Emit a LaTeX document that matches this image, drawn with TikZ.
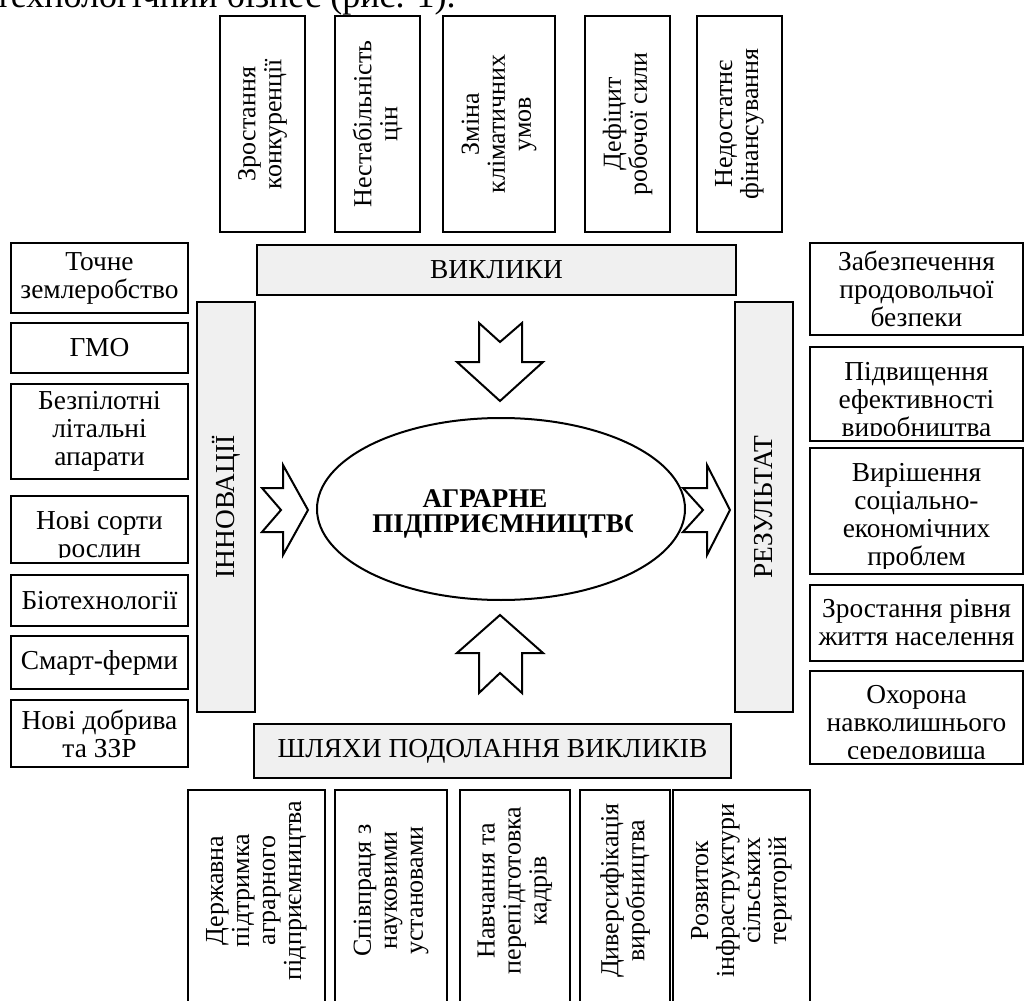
\documentclass[tikz,border=0pt]{standalone}
\usepackage{fontspec}
\setmainfont{Liberation Serif}
\usetikzlibrary{shapes.geometric}
\definecolor{boxgrey}{HTML}{F0F0F0}
\tikzset{
  box/.style={draw=black, line width=1.35pt, fill=white, rectangle, inner sep=0pt, outer sep=0pt},
  gbox/.style={box, fill=boxgrey},
  txt/.style={font=\fontsize{13.7}{14}\selectfont, align=center, inner sep=0pt, text=black},
  rtxt/.style={font=\fontsize{13}{13}\selectfont, align=center, inner sep=0pt, text=black, rotate=90},
  blockarrow/.style={draw=black, line width=1pt, fill=white, line join=miter},
}
% #1 name, #2 box style, #3 x1, #4 y1, #5 x2, #6 y2, #7 text options, #8 text
\newcommand\bx[8]{%
  \node[#2, minimum width={(#5-#3)*0.5pt}, minimum height={(#6-#4)*0.5pt},
    path picture={%
      \clip (path picture bounding box.north west) rectangle ([yshift=3pt]path picture bounding box.south east);
      \node[#7] (#1t) at (path picture bounding box.center) {#8};}]
    (#1) at ({(#3+#5)/2},{(#4+#6)/2}) {};}
\begin{document}
\begin{tikzpicture}[x=0.5pt,y=-0.5pt]
\clip (0,0) rectangle (1025,1001);
\fill[white] (0,0) rectangle (1025,1001);
% partial line of running text at the top
\node[anchor=base east, inner sep=0pt, font=\fontsize{18}{20}\selectfont] (head) at (456,7) {технологічний бізнес (рис. 1).};
% top boxes: challenges
\bx{c1}{box}{220}{16}{305}{232}{rtxt}{Зростання\\конкуренції}
\bx{c2}{box}{335}{16}{420}{232}{rtxt}{Нестабільність\\цін}
\bx{c3}{box}{443}{16}{555}{232}{rtxt}{Зміна\\кліматичних\\умов}
\bx{c4}{box}{585}{16}{670}{232}{rtxt}{Дефіцит\\робочої сили}
\bx{c5}{box}{697}{16}{782}{232}{rtxt}{Недостатнє\\фінансування}
% header bars
\bx{vyk}{gbox}{257}{245}{736}{295}{txt}{ВИКЛИКИ}
\bx{inn}{gbox}{197}{302}{255}{712}{txt,rotate=90}{ІННОВАЦІЇ}
\bx{rez}{gbox}{735}{302}{793}{712}{txt,rotate=90}{РЕЗУЛЬТАТ}
\bx{shl}{gbox}{254}{724}{731}{778}{txt}{ШЛЯХИ ПОДОЛАННЯ ВИКЛИКІВ}
% left boxes: innovations
\bx{i1}{box}{11}{243}{188}{313}{txt}{Точне\\землеробство}
\bx{i2}{box}{11}{323}{188}{373}{txt}{ГМО}
\bx{i3}{box}{11}{384}{188}{479}{txt}{Безпілотні\\літальні\\апарати}
\bx{i4}{box}{11}{496}{188}{563}{txt,yshift=-4pt}{Нові сорти\\рослин}
\bx{i5}{box}{11}{575}{188}{626}{txt}{Біотехнології}
\bx{i6}{box}{11}{636}{188}{689}{txt}{Смарт-ферми}
\bx{i7}{box}{11}{700}{188}{767}{txt}{Нові добрива\\та ЗЗР}
% right boxes: results
\bx{r1}{box}{810}{243}{1023}{335}{txt}{Забезпечення\\продовольчої\\безпеки}
\bx{r2}{box}{810}{347}{1023}{441}{txt,yshift=-4pt}{Підвищення\\ефективності\\виробництва}
\bx{r3}{box}{810}{448}{1023}{574}{txt,yshift=-3pt}{Вирішення\\соціально-\\економічних\\проблем}
\bx{r4}{box}{810}{585}{1023}{661}{txt}{Зростання рівня\\життя населення}
\bx{r5}{box}{810}{671}{1023}{764}{txt,yshift=-4pt}{Охорона\\навколишнього\\середовища}
% bottom boxes: ways
\bx{w1}{box}{188}{790}{325}{1015}{yshift=6pt,rtxt}{Державна\\підтримка\\аграрного\\підприємництва}
\bx{w2}{box}{335}{790}{447}{1015}{yshift=6pt,rtxt}{Співпраця з\\науковими\\установами}
\bx{w3}{box}{460}{790}{570}{1015}{yshift=6pt,rtxt}{Навчання та\\перепідготовка\\кадрів}
\bx{w4}{box}{580}{790}{670}{1015}{yshift=6pt,rtxt}{Диверсифікація\\виробництва}
\bx{w5}{box}{673}{790}{810}{1015}{yshift=6pt,rtxt}{Розвиток\\інфраструктури\\сільських\\територій}
% centre
\node[draw=black, line width=1pt, ellipse, fill=white, inner sep=0pt,
      minimum width={368*0.5pt}, minimum height={182*0.5pt}] (agr) at (501,509) {};
\begin{scope}
  \clip (372,470) rectangle (632,552);
  \node[anchor=base, inner sep=0pt, font=\fontsize{13.5}{13.5}\selectfont\bfseries] (agr1) at (485,507) {АГРАРНЕ};
  \node[anchor=base west, inner sep=0pt, font=\fontsize{13.5}{13.5}\selectfont\bfseries] (agr2) at (372,532) {ПІДПРИЄМНИЦТВО};
\end{scope}
% block arrows
\draw[blockarrow] (479,323) -- (500,342) -- (522,323) -- (522,362) -- (543,362) -- (500,401) -- (457,362) -- (479,362) -- cycle;
\draw[blockarrow] (479,693) -- (500,673) -- (522,693) -- (522,653) -- (543,653) -- (500,615) -- (457,653) -- (479,653) -- cycle;
\draw[blockarrow] (262,488) -- (283,488) -- (283,465) -- (308,510) -- (283,555) -- (283,532) -- (262,532) -- (281,510) -- cycle;
\draw[blockarrow] (683,488) -- (707,488) -- (707,465) -- (730,510) -- (707,555) -- (707,532) -- (683,532) -- (703,510) -- cycle;
\end{tikzpicture}
\end{document}
